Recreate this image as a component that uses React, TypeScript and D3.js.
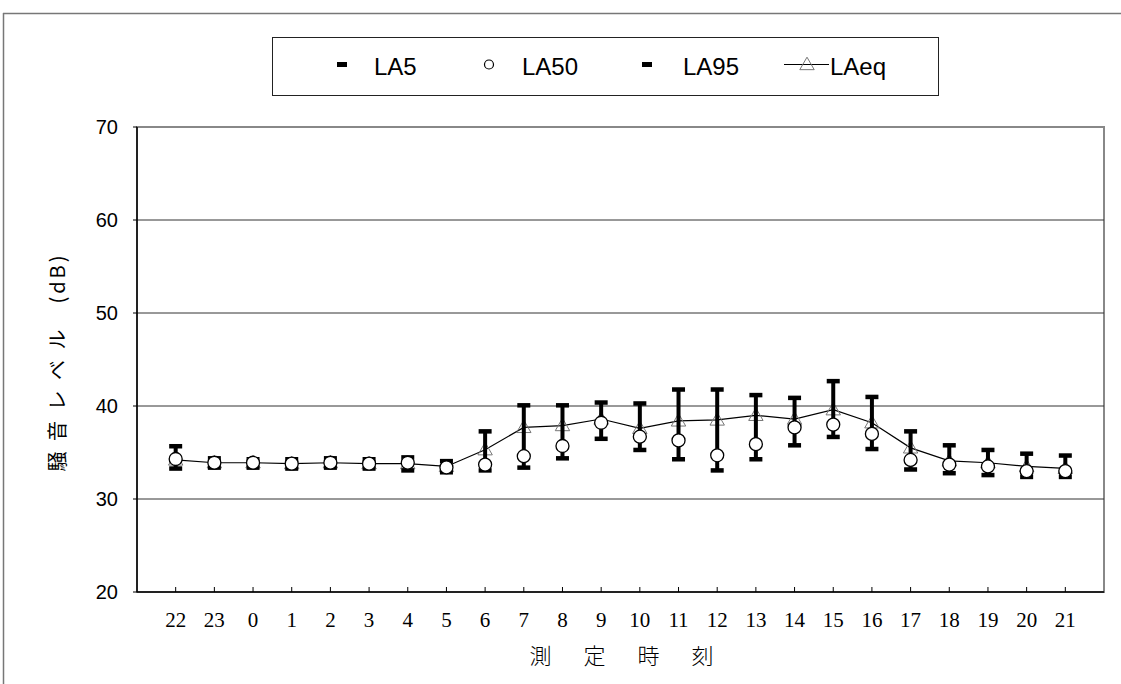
import * as d3 from "d3";

const hours = ["22", "23", "0", "1", "2", "3", "4", "5", "6", "7", "8", "9", "10", "11", "12", "13", "14", "15", "16", "17", "18", "19", "20", "21"];
const la5 = [35.7, 34.4, 34.3, 34.3, 34.4, 34.3, 34.5, 34.1, 37.3, 40.1, 40.1, 40.4, 40.3, 41.8, 41.8, 41.2, 40.9, 42.7, 41.0, 37.3, 35.8, 35.3, 34.9, 34.7];
const la50 = [34.3, 33.9, 33.9, 33.8, 33.9, 33.8, 33.9, 33.4, 33.7, 34.6, 35.7, 38.2, 36.7, 36.3, 34.7, 35.9, 37.7, 38.0, 37.0, 34.2, 33.7, 33.5, 33.0, 33.0];
const la95 = [33.3, 33.4, 33.4, 33.3, 33.4, 33.3, 33.1, 32.9, 33.1, 33.4, 34.4, 36.5, 35.3, 34.3, 33.1, 34.3, 35.8, 36.7, 35.4, 33.2, 32.8, 32.6, 32.4, 32.4];
const laeq = [34.2, 33.9, 33.9, 33.8, 33.9, 33.8, 33.8, 33.5, 35.3, 37.7, 37.9, 38.6, 37.6, 38.4, 38.5, 39.0, 38.6, 39.6, 38.2, 35.5, 34.1, 33.9, 33.5, 33.3];
const yTicks = [20, 30, 40, 50, 60, 70];

const W = 1121;
const H = 684;
const PLOT = { left: 137, right: 1104, top: 127, bottom: 592 };
const SANS = "'Liberation Sans', Arial, sans-serif";
const SERIF = "'Liberation Serif', 'DejaVu Serif', serif";
const CJK = "'Noto Sans CJK JP', sans-serif";

export default function App() {
  const x = d3.scaleLinear().domain([-1, hours.length]).range([PLOT.left, PLOT.right]);
  const y = d3.scaleLinear().domain([20, 70]).range([PLOT.bottom, PLOT.top]);
  const tri = d3.symbol(d3.symbolTriangle, 90)();
  const line = d3.line<number>().x((_, i) => x(i)).y(d => y(d));
  const capW = 13;

  return (
    <svg width={W} height={H} style={{ position: "absolute", left: 0, top: 0, background: "#fff" }}>
      {/* chart frame (cropped) */}
      <line x1={3} x2={W} y1={13.5} y2={13.5} stroke="#777" strokeWidth={1.5} />
      <line x1={3.5} x2={3.5} y1={13} y2={H} stroke="#777" strokeWidth={1.5} />

      {/* legend */}
      <rect x={272.5} y={37.5} width={666} height={58} fill="#fff" stroke="#222" strokeWidth={1} />
      <g fontFamily={SANS} fontSize={24} fill="#000">
        <rect x={337} y={62} width={10} height={5} fill="#000" />
        <text x={374} y={75}>LA5</text>
        <circle cx={489} cy={64.5} r={4.5} fill="#fff" stroke="#000" strokeWidth={1.2} />
        <text x={522} y={75}>LA50</text>
        <rect x={642} y={62} width={10} height={5} fill="#000" />
        <text x={683} y={75}>LA95</text>
        <line x1={784} x2={829} y1={64.5} y2={64.5} stroke="#000" strokeWidth={1} />
        <path d={tri} transform="translate(807,65.5)" fill="none" stroke="#777" strokeWidth={1} />
        <text x={830} y={75}>LAeq</text>
      </g>

      {/* plot area */}
      <rect x={PLOT.left} y={PLOT.top} width={PLOT.right - PLOT.left} height={PLOT.bottom - PLOT.top} fill="#fff" stroke="#888" strokeWidth={2} />
      {yTicks.filter(t => t > 20 && t < 70).map(t => (
        <line key={t} x1={PLOT.left} x2={PLOT.right} y1={y(t)} y2={y(t)} stroke="#333" strokeWidth={1} />
      ))}
      <line x1={PLOT.left} x2={PLOT.left} y1={PLOT.top} y2={PLOT.bottom} stroke="#000" strokeWidth={1.5} />
      <line x1={PLOT.left} x2={PLOT.right} y1={PLOT.bottom} y2={PLOT.bottom} stroke="#000" strokeWidth={1.5} />

      {/* y axis */}
      {yTicks.map(t => (
        <g key={t}>
          <line x1={PLOT.left - 4} x2={PLOT.left} y1={y(t)} y2={y(t)} stroke="#000" strokeWidth={1} />
          <text x={118} y={y(t) + 7} textAnchor="end" fontFamily={SANS} fontSize={20}>{t}</text>
        </g>
      ))}
      <text transform="translate(65,362) rotate(-90)" textAnchor="middle" fontFamily={CJK} fontSize={20} fill="#000" letterSpacing={3}>
        騒 音 レ ベ ル　(dB)
      </text>

      {/* x axis */}
      {hours.map((h, i) => (
        <g key={h}>
          <line x1={x(i)} x2={x(i)} y1={PLOT.bottom} y2={PLOT.bottom - 5} stroke="#000" strokeWidth={1} />
          <text x={x(i)} y={627} textAnchor="middle" fontFamily={SERIF} fontSize={21}>{h}</text>
        </g>
      ))}
      <text x={624} y={664} textAnchor="middle" fontFamily={CJK} fontSize={22} fill="#000" fontWeight={300} letterSpacing={5}>
        測　定　時　刻
      </text>

      {/* LAeq line + triangles */}
      <path d={line(laeq) ?? ""} fill="none" stroke="#000" strokeWidth={1.2} />
      {laeq.map((v, i) => (
        <path key={i} d={tri} transform={`translate(${x(i)},${y(v) + 1})`} fill="none" stroke="#777" strokeWidth={1} />
      ))}

      {/* LA5 - LA95 bars */}
      {hours.map((_, i) => (
        <g key={i}>
          <line x1={x(i)} x2={x(i)} y1={y(la5[i])} y2={y(la95[i])} stroke="#000" strokeWidth={4} />
          <rect x={x(i) - capW / 2} y={y(la5[i]) - 2} width={capW} height={4.5} fill="#000" />
          <rect x={x(i) - capW / 2} y={y(la95[i]) - 2} width={capW} height={4.5} fill="#000" />
        </g>
      ))}

      {/* LA50 circles */}
      {la50.map((v, i) => (
        <circle key={i} cx={x(i)} cy={y(v)} r={6.5} fill="#fff" stroke="#000" strokeWidth={1.3} />
      ))}
    </svg>
  );
}
